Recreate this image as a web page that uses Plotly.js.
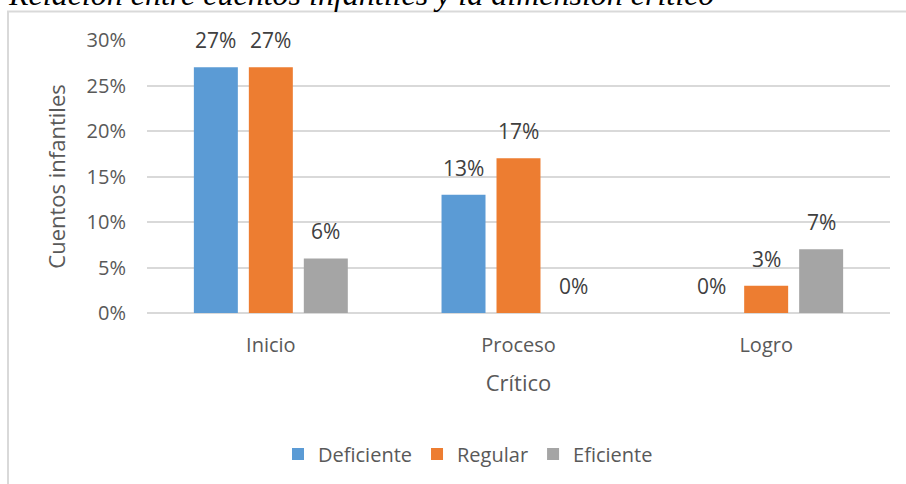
<!DOCTYPE html>
<html>
<head>
<meta charset="utf-8">
<script src="https://cdn.plot.ly/plotly-3.0.1.min.js"></script>
<style>
html,body{margin:0;padding:0;background:#fff;overflow:hidden;}
#chart{width:906px;height:484px;}
</style>
</head>
<body>
<div id="chart"></div>
<script>
// ---- data ----
const categories = ['Inicio', 'Proceso', 'Logro'];
const seriesNames = ['Deficiente', 'Regular', 'Eficiente'];
const deficiente = [27, 13, 0];
const regular = [27, 17, 3];
const eficiente = [6, 0, 7];
const yTicks = [0, 5, 10, 15, 20, 25, 30];
const chartTitle = 'Relación entre cuentos infantiles y la dimensión crítico';
const xTitle = 'Crítico';
const yTitle = 'Cuentos infantiles';

// ---- styling ----
const W = 906, H = 484;
const M = {l: 147, r: 16, t: 39.5, b: 171};
const plotW = W - M.l - M.r, plotH = H - M.t - M.b;
const colors = ['#5B9BD5', '#ED7D31', '#A5A5A5'];
const font = '"Open Sans", "Liberation Sans", sans-serif';
const seriesValues = [deficiente, regular, eficiente];

const traces = seriesValues.map((vals, i) => ({
  type: 'bar',
  name: seriesNames[i],
  x: categories,
  y: vals,
  marker: {color: colors[i]},
  hoverinfo: 'skip'
}));

// bar offset in pixels within a group
const catW = plotW / categories.length;
const bargap = 0.334, bargroupgap = 0.2;
const slot = catW * (1 - bargap) / seriesValues.length;

const annotations = [];
seriesValues.forEach((vals, i) => {
  vals.forEach((v, j) => {
    annotations.push({
      x: categories[j], y: v, xref: 'x', yref: 'y',
      text: v + '%', showarrow: false,
      xanchor: 'center', yanchor: 'bottom',
      xshift: (i - 1) * slot, yshift: 11,
      font: {family: font, size: 21, color: '#404040'}
    });
  });
});

// chart title (clipped at top as in reference)
annotations.push({
  xref: 'paper', yref: 'paper',
  x: (6 - M.l) / plotW, y: (plotH + M.t + 6.5) / plotH,
  xanchor: 'left', yanchor: 'middle',
  text: chartTitle, showarrow: false,
  font: {family: '"Liberation Serif", "Times New Roman", serif', size: 32, color: '#000', style: 'italic'}
});

const fx = px => (px - M.l) / plotW;
const fy = py => (H - M.b - py) / plotH;
const shapes = [{
  type: 'path', xref: 'paper', yref: 'paper', layer: 'below',
  path: `M ${fx(8)} ${fy(H + 10)} L ${fx(8)} ${fy(11)} L ${fx(W + 10)} ${fy(11)}`,
  line: {color: '#d9d9d9', width: 2}
}];

const layout = {
  width: W, height: H,
  margin: M,
  paper_bgcolor: '#fff', plot_bgcolor: '#fff',
  barmode: 'group', bargap: bargap, bargroupgap: bargroupgap,
  font: {family: font, color: '#595959'},
  showlegend: true,
  legend: {
    orientation: 'h', xref: 'container', yref: 'container',
    x: 468 / W, y: 1 - 454 / H, xanchor: 'center', yanchor: 'middle',
    font: {family: font, size: 20, color: '#595959'},
    itemwidth: 30, traceorder: 'normal'
  },
  xaxis: {
    type: 'category', showgrid: false, showline: false, zeroline: false,
    ticks: '', ticklabelstandoff: 18,
    tickfont: {family: font, size: 20, color: '#595959'},
    title: {text: xTitle, standoff: 18, font: {family: font, size: 22, color: '#595959'}}
  },
  yaxis: {
    range: [0, 30], tickvals: yTicks, ticktext: yTicks.map(v => v + '%'),
    showgrid: true, gridcolor: '#d9d9d9', gridwidth: 2,
    zeroline: true, zerolinecolor: '#d9d9d9', zerolinewidth: 2,
    showline: false, ticks: '', ticklabelstandoff: 20,
    tickfont: {family: font, size: 20, color: '#595959'},
    title: {text: yTitle, standoff: 14, font: {family: font, size: 22, color: '#595959'}}
  },
  annotations: annotations,
  shapes: shapes
};

Plotly.newPlot('chart', traces, layout, {staticPlot: true, displayModeBar: false});
</script>
</body>
</html>
